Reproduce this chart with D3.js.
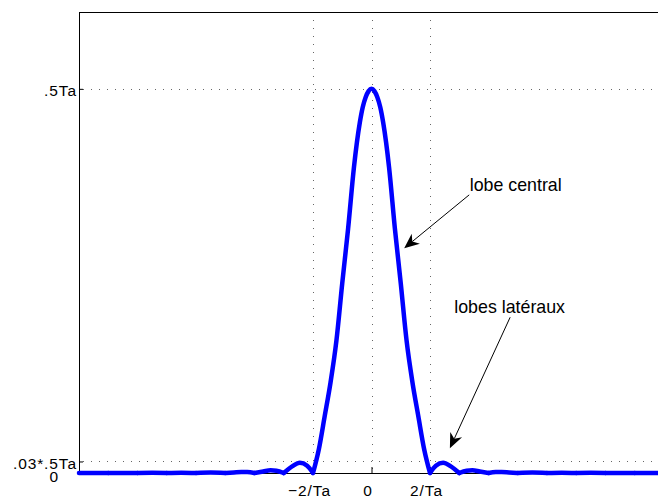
<!DOCTYPE html>
<html><head><meta charset="utf-8">
<script src="https://cdn.jsdelivr.net/npm/d3@7"></script>
<style>
body{margin:0;background:#fff}
svg{display:block}
text{font-family:"Liberation Sans",Arial,Helvetica,sans-serif;fill:#000}
</style>
</head><body>
<svg id="c" width="658" height="498"></svg>
<script>
// frequency in units of 1/Ta, amplitude in units of Ta
const freq = [-10,-9.5,-9,-8.5,-8,-7.5,-7,-6.5,-6,-5.5,-5,-4.7,-4.45,-4.25,-4,-3.7,-3.45,-3.25,-3,-2.7,-2.45,-2.2,-2,
  -1.8,-1.6,-1.4,-1.2,-1,-0.8,-0.6,-0.5,-0.4,-0.3,-0.2,-0.1,0,0.1,0.2,0.3,0.4,0.5,0.6,0.8,1,1.2,1.4,1.6,1.8,
  2,2.2,2.45,2.7,3,3.25,3.45,3.7,4,4.25,4.45,4.7,5,5.5,6,6.5,7,7.5,8,8.5,9,9.5,10];
const amplitude = [0,0.0001,0,0.00015,0,0.0002,0,0.0003,0,0.0005,0,0.0008,0.0014,0.0012,0,0.002,0.0035,0.003,0,0.009,0.0133,0.0095,0,
  0.031,0.074,0.118,0.172,0.247,0.318,0.398,0.43,0.456,0.476,0.489,0.497,0.5,0.497,0.489,0.476,0.456,0.43,0.398,0.318,0.247,0.172,0.118,0.074,0.031,
  0,0.0095,0.0133,0.009,0,0.003,0.0035,0.002,0,0.0012,0.0014,0.0008,0,0.0005,0,0.0003,0,0.0002,0,0.00015,0,0.0001,0];

const xTickValues = [-2, 0, 2];
const xTickLabels = ["\u22122/Ta", "0", "2/Ta"];
const yTickValues = [0, 0.015, 0.5];
const yTickLabels = ["0", ".03*.5Ta", ".5Ta"];
const xGridValues = [-2, 0, 2];
const yGridValues = [0.015, 0.5];

const annoLabels = ["lobe central", "lobes latéraux"];
const annoTextAt = [[3.36, 0.367], [2.83, 0.208]];
const annoTail = [[3.34, 0.362], [4.74, 0.2027]];
const annoTip = [[1.118, 0.2926], [2.68, 0.0322]];

const svg = d3.select("#c");
const L = 79, R = 664, T = 12, B = 473;
const x = d3.scaleLinear().domain([-10, 10]).range([L, R]);
const y = d3.scaleLinear().domain([0, 0.6]).range([B, T]);

// grid
const grid = svg.append("g").attr("stroke", "#666").attr("stroke-width", 1).attr("stroke-dasharray", "1,7");
grid.selectAll("line.v").data(xGridValues).join("line")
  .attr("x1", d => Math.round(x(d)) + 0.5).attr("x2", d => Math.round(x(d)) + 0.5)
  .attr("y1", T).attr("y2", B);
grid.selectAll("line.h").data(yGridValues).join("line")
  .attr("y1", d => Math.round(y(d)) + 0.5).attr("y2", d => Math.round(y(d)) + 0.5)
  .attr("x1", L + 4).attr("x2", R);

// top border
svg.append("line").attr("x1", L).attr("x2", R).attr("y1", T + 0.5).attr("y2", T + 0.5)
  .attr("stroke", "#000").attr("stroke-width", 1);

// x axis
const xAxis = svg.append("g").attr("transform", `translate(0,${B})`)
  .call(d3.axisBottom(x).tickValues(xTickValues).tickFormat((d, i) => xTickLabels[i])
    .tickSizeInner(-6).tickSizeOuter(0).tickPadding(12));
xAxis.attr("font-family", null);
xAxis.selectAll("text").attr("font-size", 15.5)
  .attr("letter-spacing", "0.9px").attr("dx", -4);
xAxis.selectAll("line,path").attr("stroke", "#000");

// y axis
const yAxis = svg.append("g").attr("transform", `translate(${L},0)`)
  .call(d3.axisLeft(y).tickValues(yTickValues).tickFormat((d, i) => yTickLabels[i])
    .tickSizeInner(-4).tickSizeOuter(0).tickPadding(2));
yAxis.attr("font-family", null);
yAxis.selectAll("text").attr("font-size", 15.5)
  .attr("letter-spacing", "0.9px").attr("dy", "0.46em");
yAxis.selectAll(".tick").filter(d => d === 0).select("text").attr("x", -20).attr("dy", "0.52em");
yAxis.selectAll("line,path").attr("stroke", "#000");

// curve, split at zeros into lobes
const pts = freq.map((f, i) => [f, amplitude[i]]);
const segs = [];
let cur = [pts[0]];
for (let i = 1; i < pts.length; i++) {
  cur.push(pts[i]);
  if (pts[i][1] === 0 && i < pts.length - 1) { segs.push(cur); cur = [pts[i]]; }
}
segs.push(cur);
const line = d3.line().x(d => x(d[0])).y(d => y(d[1])).curve(d3.curveMonotoneX);
svg.append("g").selectAll("path").data(segs).join("path")
  .attr("d", line).attr("fill", "none").attr("stroke", "#0000ff")
  .attr("stroke-width", 4.5).attr("stroke-linejoin", "round").attr("stroke-linecap", "round");

// annotations
const anno = svg.append("g");
annoLabels.forEach((lab, i) => {
  anno.append("text").attr("x", x(annoTextAt[i][0])).attr("y", y(annoTextAt[i][1]))
    .attr("font-size", 17.8).text(lab);
  const tx = x(annoTip[i][0]), ty = y(annoTip[i][1]);
  const sx = x(annoTail[i][0]), sy = y(annoTail[i][1]);
  const dx = sx - tx, dy = sy - ty, len = Math.hypot(dx, dy);
  const ux = dx / len, uy = dy / len, px = -uy, py = ux;
  const hl = 15, hw = 6.5, nl = 10.5;
  anno.append("line").attr("x1", sx).attr("y1", sy).attr("x2", tx + ux * nl).attr("y2", ty + uy * nl)
    .attr("stroke", "#000").attr("stroke-width", 1);
  const head = [[tx, ty], [tx + ux * hl + px * hw, ty + uy * hl + py * hw],
    [tx + ux * nl, ty + uy * nl], [tx + ux * hl - px * hw, ty + uy * hl - py * hw]];
  anno.append("path").attr("d", "M" + head.map(p => p.join(",")).join("L") + "Z").attr("fill", "#000");
});
</script>
</body></html>
